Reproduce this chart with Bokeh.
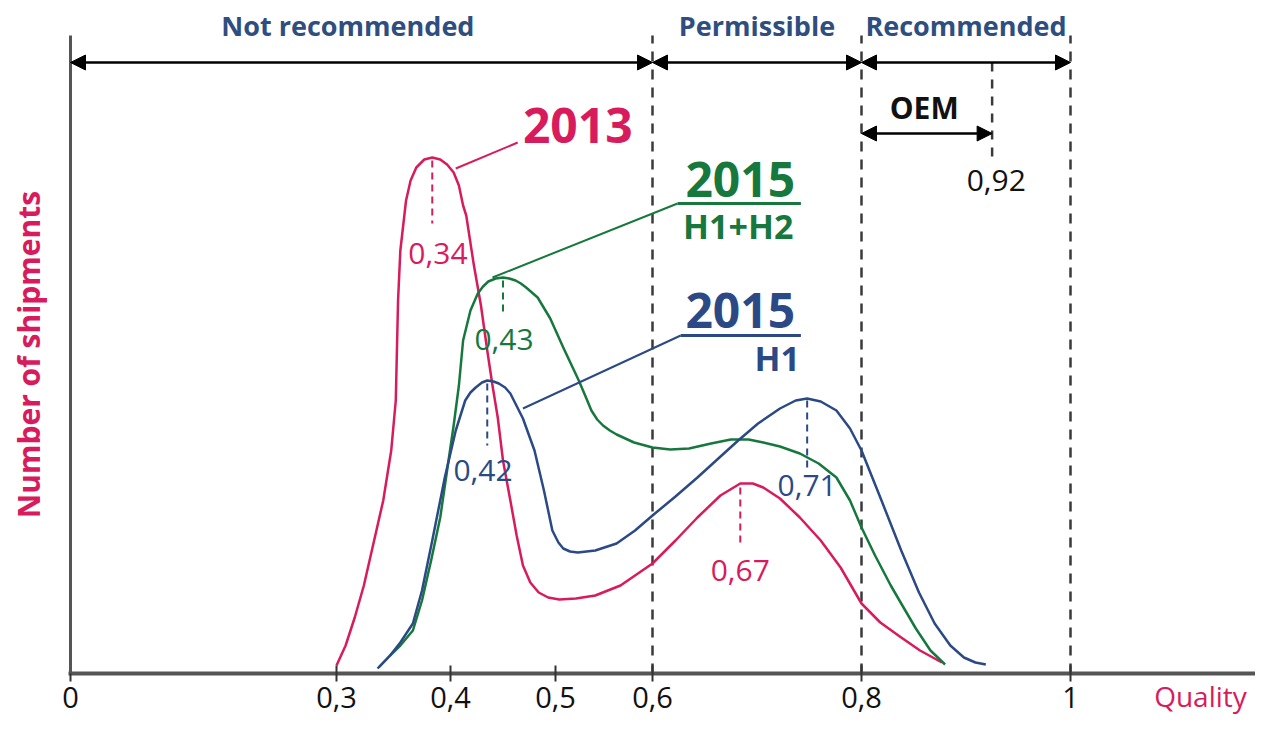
import numpy as np
from bokeh.plotting import figure
from bokeh.models import Range1d, FixedTicker, Arrow, NormalHead, LinearAxis
from bokeh.core.properties import value
from bokeh.embed import file_html
from bokeh.resources import INLINE

# ---------------- data ----------------
# x axis of the original is schematic: labelled ticks are not evenly spaced
TICK_Q = [0, 0.3, 0.4, 0.5, 0.6, 0.8, 1.0]
TICK_LABELS = ["0", "0,3", "0,4", "0,5", "0,6", "0,8", "1"]
AXIS_AT = [0, 0.266, 0.380, 0.485, 0.582, 0.791, 1.0]

ZONE_BOUNDS = [0, 0.6, 0.8, 1.0]
ZONE_NAMES = ["Not recommended", "Permissible", "Recommended"]
ZONE_LABEL_Q = [0.31, 0.70, 0.90]

# 2013
Q_2013 = [0.300, 0.308, 0.316, 0.324, 0.331, 0.341, 0.348, 0.352, 0.353, 0.354,
          0.356, 0.361, 0.365, 0.370, 0.377, 0.384, 0.391, 0.397, 0.403, 0.408,
          0.412, 0.415, 0.422, 0.429, 0.435, 0.440, 0.445, 0.450, 0.457, 0.463,
          0.469, 0.476, 0.484, 0.493, 0.504, 0.521, 0.541, 0.567, 0.600, 0.622,
          0.643, 0.665, 0.684, 0.696, 0.706, 0.722, 0.741, 0.761, 0.780, 0.800,
          0.818, 0.838, 0.856, 0.877]
N_2013 = [8, 28, 56, 88, 123, 173, 223, 273, 323, 373,
          423, 473, 493, 506, 514, 516, 514, 509, 501, 488,
          468, 458, 410, 368, 323, 288, 256, 213, 173, 138,
          108, 91, 81, 76, 74, 75, 78, 88, 110, 133,
          156, 178, 190, 190, 186, 175, 156, 133, 106, 70,
          51, 36, 23, 11]

# 2015 H1+H2
Q_2015 = [0.337, 0.347, 0.356, 0.367, 0.375, 0.383, 0.391, 0.397, 0.403, 0.408,
          0.412, 0.419, 0.426, 0.431, 0.436, 0.443, 0.450, 0.456, 0.462, 0.467,
          0.472, 0.483, 0.495, 0.508, 0.524, 0.531, 0.537, 0.543, 0.549, 0.556,
          0.563, 0.581, 0.600, 0.617, 0.635, 0.656, 0.675, 0.692, 0.706, 0.722,
          0.741, 0.759, 0.776, 0.789, 0.800, 0.813, 0.828, 0.838, 0.852, 0.866, 0.880]
N_2015 = [6, 18, 28, 43, 73, 113, 156, 203, 248, 288,
          333, 363, 380, 387, 392, 395, 396, 395, 393, 390,
          386, 376, 355, 326, 293, 277, 263, 254, 248, 243,
          239, 231, 226, 224, 225, 230, 234, 234, 231, 227,
          220, 210, 196, 173, 146, 118, 88, 70, 45, 23, 9]

# 2015 H1
Q_H1 = [0.336, 0.347, 0.356, 0.367, 0.375, 0.384, 0.395, 0.405, 0.414, 0.419,
        0.424, 0.430, 0.435, 0.441, 0.446, 0.452, 0.457, 0.469, 0.480, 0.489,
        0.497, 0.503, 0.508, 0.515, 0.523, 0.541, 0.563, 0.582, 0.600, 0.622,
        0.643, 0.663, 0.682, 0.701, 0.722, 0.737, 0.748, 0.761, 0.776, 0.789,
        0.800, 0.818, 0.838, 0.855, 0.870, 0.885, 0.898, 0.909, 0.919]
N_H1 = [5, 18, 31, 50, 83, 133, 196, 243, 273, 281,
        286, 291, 293, 292, 290, 286, 280, 255, 223, 183,
        143, 131, 125, 122, 121, 123, 130, 143, 158, 177,
        196, 215, 233, 250, 265, 273, 275, 272, 263, 245,
        223, 176, 123, 81, 50, 28, 16, 11, 9]

# peak markers: red, green, blue, red, blue
PEAK_Q = [0.384, 0.450, 0.435, 0.684, 0.748]
PEAK_TOP = [513, 393, 290, 186, 273]
PEAK_BOTTOM = [450, 358, 228, 126, 205]
PEAK_LABELS = ["0,34", "0,43", "0,42", "0,67", "0,71"]
PEAK_LABEL_Q = [0.389, 0.451, 0.431, 0.684, 0.748]
PEAK_LABEL_N = [420, 334, 203, 103, 188]

OEM_Q = 0.925
OEM_LABEL = "0,92"

RED = "#d81b5c"
GREEN = "#17783d"
BLUE = "#2b4a85"
ZONE_BLUE = "#2f4e80"
DASH = "#3a3a3a"
AXIS_GREY = "#555555"
FONT = "Open Sans"

AXIS_TOP = 638
ARROW_N = 611
OEM_ARROW_N = 540


def warp(q):
    return np.interp(q, TICK_Q, AXIS_AT)


p = figure(frame_width=1255, frame_height=717,
           x_range=Range1d(-0.070, 1.185), y_range=Range1d(-44, 673),
           output_backend="svg", toolbar_location=None,
           x_axis_type=None, y_axis_type=None,
           min_border_left=0, min_border_right=0, min_border_top=0, min_border_bottom=0)
p.outline_line_color = None
p.background_fill_color = "white"

# x axis (drawn at the zero line inside the frame)
tick_pos = [round(float(v), 3) for v in warp(TICK_Q)]
xaxis = LinearAxis(ticker=FixedTicker(ticks=tick_pos, minor_ticks=[]),
                   major_label_overrides={t: l for t, l in zip(tick_pos, TICK_LABELS)},
                   fixed_location=0)
xaxis.axis_line_color = AXIS_GREY
xaxis.axis_line_width = 4
xaxis.major_tick_in = 8
xaxis.major_tick_out = 8
xaxis.major_tick_line_width = 2
xaxis.major_tick_line_color = "#333333"
xaxis.minor_tick_line_color = None
xaxis.major_label_standoff = 5
xaxis.major_label_text_font = FONT
xaxis.major_label_text_font_size = "29px"
xaxis.major_label_text_color = "#111111"
xaxis.bounds = (-0.002, 1.185)
p.add_layout(xaxis, "below")

# y axis (drawn at quality 0)
yaxis = LinearAxis(ticker=FixedTicker(ticks=[], minor_ticks=[]), bounds=(0, AXIS_TOP),
                   fixed_location=0)
yaxis.axis_line_color = AXIS_GREY
yaxis.axis_line_width = 3
yaxis.major_tick_line_color = None
yaxis.minor_tick_line_color = None
yaxis.major_label_text_font_size = "0px"
yaxis.major_label_standoff = 0
yaxis.axis_label = "Number of shipments"
yaxis.axis_label_text_font = FONT
yaxis.axis_label_text_font_style = "bold"
yaxis.axis_label_text_font_size = "30px"
yaxis.axis_label_text_color = RED
yaxis.axis_label_standoff = 22
p.add_layout(yaxis, "left")

# zone boundaries
bx = warp(ZONE_BOUNDS[1:])
p.segment(x0=bx, y0=[0] * len(bx), x1=bx, y1=[AXIS_TOP] * len(bx),
          line_color=DASH, line_width=2.5, line_dash="10 8")

# zone arrows
for a, b in zip(ZONE_BOUNDS[:-1], ZONE_BOUNDS[1:]):
    p.add_layout(Arrow(start=NormalHead(size=15, fill_color="black", line_color="black"),
                       end=NormalHead(size=15, fill_color="black", line_color="black"),
                       x_start=float(warp(a)), y_start=ARROW_N,
                       x_end=float(warp(b)), y_end=ARROW_N,
                       line_width=2.5, line_color="black"))

p.text(x=warp(ZONE_LABEL_Q), y=[648] * 3, text=ZONE_NAMES,
       text_font=value(FONT), text_font_style="bold", text_font_size="27px",
       text_color=ZONE_BLUE, text_align="center", text_baseline="middle")

# OEM
ox = float(warp(OEM_Q))
p.segment(x0=[ox], y0=[ARROW_N], x1=[ox], y1=[516], line_color=DASH,
          line_width=2.5, line_dash="9 8")
p.add_layout(Arrow(start=NormalHead(size=15, fill_color="black", line_color="black"),
                   end=NormalHead(size=15, fill_color="black", line_color="black"),
                   x_start=float(warp(0.8)), y_start=OEM_ARROW_N,
                   x_end=ox, y_end=OEM_ARROW_N, line_width=2.5, line_color="black"))
p.text(x=[float(warp(0.86))], y=[566], text=["OEM"], text_font=value(FONT),
       text_font_style="bold", text_font_size="30px", text_color="#111111",
       text_align="center", text_baseline="middle")
p.text(x=[float(warp(0.929))], y=[493], text=[OEM_LABEL], text_font=value(FONT),
       text_font_size="30px", text_color="#111111",
       text_align="center", text_baseline="middle")

# curves
for qs, ns, col in ((Q_2013, N_2013, RED), (Q_2015, N_2015, GREEN), (Q_H1, N_H1, BLUE)):
    p.line(warp(qs), ns, line_color=col, line_width=2.5, line_join="round")

# peak markers
pcol = [RED, GREEN, BLUE, RED, BLUE]
px_ = warp(PEAK_Q)
p.segment(x0=px_, y0=PEAK_TOP, x1=px_, y1=PEAK_BOTTOM, line_color=pcol,
          line_width=2, line_dash="7 5")
p.text(x=warp(PEAK_LABEL_Q), y=PEAK_LABEL_N, text=PEAK_LABELS, text_color=pcol,
       text_font=value(FONT), text_font_size="30px",
       text_align="center", text_baseline="middle")

# series titles with leaders
p.segment(x0=warp([0.405, 0.440, 0.469]), y0=[505, 396, 265],
          x1=warp([0.464, 0.624, 0.627]), y1=[531, 470, 338],
          line_color=[RED, GREEN, BLUE], line_width=2)
p.segment(x0=warp([0.624, 0.627]), y0=[470, 338], x1=warp([0.742, 0.742]), y1=[470, 338],
          line_color=[GREEN, BLUE], line_width=3)
p.text(x=warp([0.523, 0.684, 0.684]), y=[548, 494, 363], text=["2013", "2015", "2015"],
       text_color=[RED, GREEN, BLUE], text_font=value(FONT), text_font_style="bold",
       text_font_size="48px", text_align="center", text_baseline="middle")
p.text(x=warp([0.682]), y=[448], text=["H1+H2"], text_color=GREEN, text_font=value(FONT),
       text_font_style="bold", text_font_size="34px", text_align="center", text_baseline="middle")
p.text(x=warp([0.741]), y=[316], text=["H1"], text_color=BLUE, text_font=value(FONT),
       text_font_style="bold", text_font_size="34px", text_align="right", text_baseline="middle")

# axis title at the right end of the quality axis
p.text(x=[1.130], y=[-22], text=["Quality"], text_align="center", text_baseline="middle",
       text_font=value(FONT), text_font_size="28px", text_color=RED)

open("out.html", "w").write(file_html(p, INLINE))
